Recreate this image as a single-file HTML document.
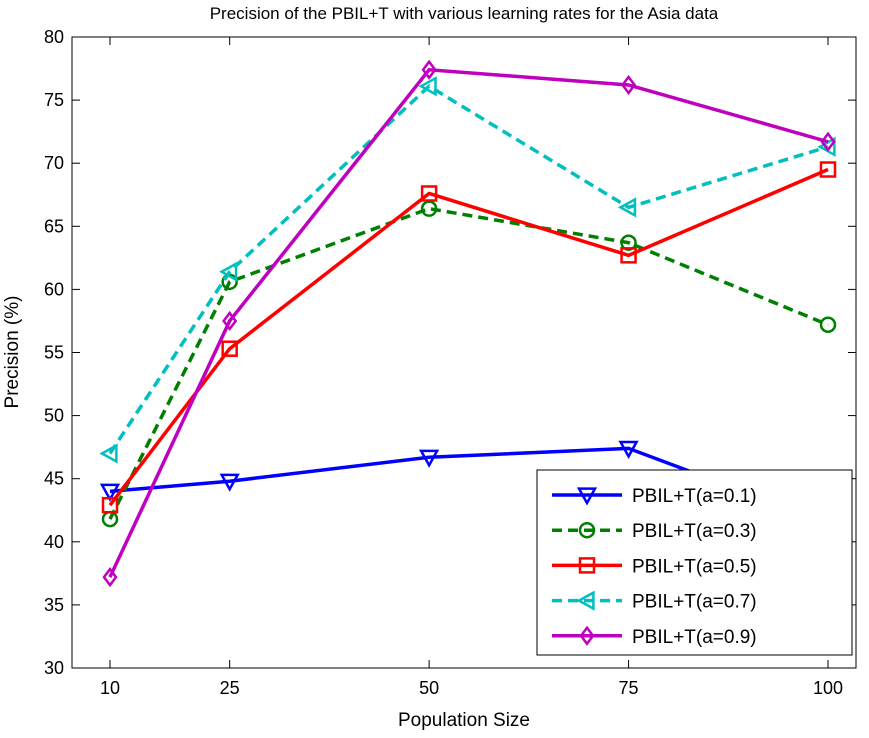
<!DOCTYPE html>
<html><head><meta charset="utf-8"><style>
html,body{margin:0;padding:0;background:#fff;}
svg text{font-family:"Liberation Sans",Arial,sans-serif;fill:#000;}
</style></head><body>
<svg id="chart" width="869" height="733" xmlns="http://www.w3.org/2000/svg">
<rect width="869" height="733" fill="#fff"/>
<text x="464" y="19" font-size="17" text-anchor="middle">Precision of the PBIL+T with various learning rates for the Asia data</text>
<g id="axes"></g>
<g id="series"></g>
<g id="legend"></g>
<text x="464" y="726" font-size="19" text-anchor="middle">Population Size</text>
<text transform="translate(18,352) rotate(-90)" font-size="19" text-anchor="middle">Precision (%)</text>
</svg>
<script>
const categories = [10, 25, 50, 75, 100];
const s01 = [44.0, 44.8, 46.7, 47.4, 41.5];
const s03 = [41.8, 60.6, 66.4, 63.7, 57.2];
const s05 = [42.9, 55.3, 67.6, 62.7, 69.5];
const s07 = [47.0, 61.4, 76.1, 66.5, 71.3];
const s09 = [37.2, 57.5, 77.4, 76.2, 71.7];
const yTicks = [30, 35, 40, 45, 50, 55, 60, 65, 70, 75, 80];
const labels = ["PBIL+T(a=0.1)","PBIL+T(a=0.3)","PBIL+T(a=0.5)","PBIL+T(a=0.7)","PBIL+T(a=0.9)"];

const NS = "http://www.w3.org/2000/svg";
const L = 72, R = 856, T = 37, B = 668;
const xs = v => 110 + (v - 10) * (718 / 90);
const ys = v => B - (v - 30) * ((B - T) / 50);
function mk(tag, attrs, parent) { const e = document.createElementNS(NS, tag); for (const k in attrs) e.setAttribute(k, attrs[k]); parent.appendChild(e); return e; }

const axes = document.getElementById('axes');
const box = mk('rect', {x:L, y:T, width:R-L, height:B-T, fill:'none', stroke:'#000', 'stroke-width':1}, axes);


yTicks.forEach(v => {
  const y = ys(v);
  mk('line', {x1:L, y1:y, x2:L+8, y2:y, stroke:'#000'}, axes);
  mk('line', {x1:R, y1:y, x2:R-8, y2:y, stroke:'#000'}, axes);
  const t = mk('text', {x:L-8, y:y+6, 'font-size':18, 'text-anchor':'end'}, axes);
  t.textContent = v;
  
  
});
categories.forEach(v => {
  const x = xs(v);
  mk('line', {x1:x, y1:B, x2:x, y2:B-8, stroke:'#000'}, axes);
  mk('line', {x1:x, y1:T, x2:x, y2:T+8, stroke:'#000'}, axes);
  const t = mk('text', {x:x, y:B+26, 'font-size':18, 'text-anchor':'middle'}, axes);
  t.textContent = v;
  
  
});

function marker(type, x, y, color, g) {
  const s = 8;
  let p;
  if (type === 'tri-down') p = mk('polygon', {points:`${x-s},${y-s*0.8} ${x+s},${y-s*0.8} ${x},${y+s}`}, g);
  else if (type === 'tri-left') p = mk('polygon', {points:`${x-s},${y} ${x+s*0.8},${y-s} ${x+s*0.8},${y+s}`}, g);
  else if (type === 'circle') p = mk('circle', {cx:x, cy:y, r:7}, g);
  else if (type === 'square') p = mk('rect', {x:x-7, y:y-7, width:14, height:14}, g);
  else p = mk('polygon', {points:`${x},${y-s} ${x+s*0.75},${y} ${x},${y+s} ${x-s*0.75},${y}`}, g);
  p.setAttribute('fill', 'none'); p.setAttribute('stroke', color); p.setAttribute('stroke-width', 2.5);
  return p;
}

const seriesDefs = [
  {data:s01, color:'#0000ff', dash:'', m:'tri-down', name:'series-a01'},
  {data:s03, color:'#008000', dash:'10,6', m:'circle', name:'series-a03'},
  {data:s05, color:'#ff0000', dash:'', m:'square', name:'series-a05'},
  {data:s07, color:'#00bfbf', dash:'10,6', m:'tri-left', name:'series-a07'},
  {data:s09, color:'#bf00bf', dash:'', m:'diamond', name:'series-a09'}
];
const sg = document.getElementById('series');
seriesDefs.forEach(sd => {
  const g = mk('g', {}, sg);
  
  
  const pts = sd.data.map((v, i) => `${xs(categories[i])},${ys(v)}`).join(' ');
  const line = mk('polyline', {points:pts, fill:'none', stroke:sd.color, 'stroke-width':3.5, 'stroke-dasharray':sd.dash}, g);
  
  
  sd.data.forEach((v, i) => {
    const p = marker(sd.m, xs(categories[i]), ys(v), sd.color, g);
    
    
  });
});

const lg = document.getElementById('legend');


mk('rect', {x:537, y:470, width:315, height:185, fill:'#fff', stroke:'#000'}, lg);
seriesDefs.forEach((sd, i) => {
  const y = 495 + i * 35.2;
  const g = mk('g', {}, lg);
  
  
  mk('line', {x1:552, y1:y, x2:622, y2:y, stroke:sd.color, 'stroke-width':3.5, 'stroke-dasharray':sd.dash}, g);
  marker(sd.m, 587, y, sd.color, g);
  const t = mk('text', {x:632, y:y+7, 'font-size':19}, g);
  t.textContent = labels[i];
});
</script>
</body></html>
